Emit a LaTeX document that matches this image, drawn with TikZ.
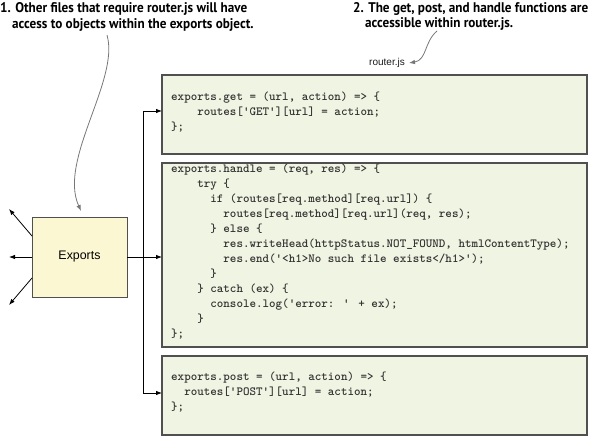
\documentclass[tikz,border=0pt]{standalone}
\usepackage{fontspec}
\setmainfont{Liberation Sans}
\newfontfamily\titlefont{PT Sans}
\usetikzlibrary{arrows.meta}
\definecolor{codefill}{HTML}{F0F4E2}
\definecolor{expfill}{HTML}{FBF7D3}
\definecolor{boxline}{HTML}{505050}
\definecolor{codetext}{HTML}{333333}
\definecolor{curvegray}{HTML}{777777}
\tikzset{
  codebox/.style={draw=boxline, line width=1.2pt, fill=codefill, inner sep=0pt, outer sep=0pt, minimum width=425pt},
  expbox/.style={draw=boxline, line width=1pt, fill=expfill, inner sep=0pt, outer sep=0pt, minimum width=95pt, minimum height=80pt, font=\fontsize{12.4}{14}\selectfont},
  code/.style={anchor=base west, inner sep=0pt, text=codetext, font=\ttfamily\bfseries\fontsize{12.44}{15}\selectfont},
  titletext/.style={anchor=base west, inner sep=0pt, text=black},
  arr/.style={line width=0.8pt, -{Latex[length=6pt,width=4.5pt]}},
  curvearr/.style={draw=curvegray, line width=0.8pt, -{Latex[length=6pt,width=4.5pt]}},
}
\newcommand{\cl}[4]{\node[code] (#1) at ({171+#2*6.53},#3) {#4};}
\newsavebox{\titlebox}
\newcommand{\titlestyle}{\titlefont\bfseries\fontsize{14}{16}\selectfont}
\newcommand{\ttl}[1]{\scalebox{\tfac}[1]{\titlestyle #1}}
\begin{document}
\sbox{\titlebox}{\titlestyle 1. Other files that require router.js will have}%
\pgfmathsetmacro{\tfac}{247/\wd\titlebox}%
\begin{tikzpicture}[x=1pt,y=-1pt]
\useasboundingbox (0,0) rectangle (590,436);

% titles
\node[titletext] (t1a) at (0,13) {\ttl{1. Other files that require router.js will have}};
\node[titletext] (t1b) at (12,29) {\ttl{access to objects within the exports object.}};
\node[titletext] (t2a) at (353,13) {\ttl{2. The get, post, and handle functions are}};
\node[titletext] (t2b) at (365,28) {\ttl{accessible within router.js.}};

\node[anchor=base, inner sep=0pt, font=\fontsize{10}{12}\selectfont, text=black!90] (router) at (387,66) {router.js};

% boxes
\node[codebox, minimum height=79pt] (getbox) at (374.5,114.5) {};
\node[codebox, minimum height=184pt] (handlebox) at (374.5,255) {};
\node[codebox, minimum height=79pt] (postbox) at (374.5,395.5) {};
\node[expbox] (exports) at (79.5,257) {Exports};

% code: get
\cl{g1}{0}{101}{exports.get = (url, action) => \{}
\cl{g2}{4}{116}{routes['GET'][url] = action;}
\cl{g3}{0}{131}{\};}

% code: handle
\cl{h1}{0}{172}{exports.handle = (req, res) => \{}
\cl{h2}{4}{187}{try \{}
\cl{h3}{6}{202}{if (routes[req.method][req.url]) \{}
\cl{h4}{8}{217}{routes[req.method][req.url](req, res);}
\cl{h5}{6}{232}{\} else \{}
\cl{h6}{8}{247}{res.writeHead(httpStatus.NOT\_FOUND, htmlContentType);}
\cl{h7}{8}{262}{res.end('<h1>No such file exists</h1>');}
\cl{h8}{6}{277}{\}}
\cl{h9}{4}{292}{\} catch (ex) \{}
\cl{h10}{6}{307}{console.log('error: ' + ex);}
\cl{h11}{4}{322}{\}}
\cl{h12}{0}{337}{\};}

% code: post
\cl{p1}{0}{380}{exports.post = (url, action) => \{}
\cl{p2}{2}{395}{routes['POST'][url] = action;}
\cl{p3}{0}{410}{\};}

% bus connectors
\coordinate (busTop) at (143,111);
\coordinate (busBot) at (143,393);
\draw[arr] (busTop) -- (getbox.west |- busTop);
\draw[arr] (busTop) -- (busBot) -- (postbox.west |- busBot);
\draw[arr] (exports.east) -- (handlebox.west |- exports.east);

% outgoing arrows on the left
\coordinate (l1s) at (32,236);
\coordinate (l1e) at (9,209);
\coordinate (l3s) at (32,278);
\coordinate (l3e) at (9,305);
\coordinate (l2e) at (9,257);
\draw[arr] (l1s) -- (l1e);
\draw[arr] (exports.west) -- (l2e);
\draw[arr] (l3s) -- (l3e);

% callout curves
\coordinate (c1s) at (107,35);
\coordinate (c1e) at (81,211);
\draw[curvearr] (c1s) .. controls (120,80) and (58,160) .. (c1e);
\coordinate (c2s) at (437,31);
\coordinate (c2e) at (409,63);
\draw[curvearr] (c2s) .. controls (424,42) and (427,60) .. (c2e);
\end{tikzpicture}
\end{document}
